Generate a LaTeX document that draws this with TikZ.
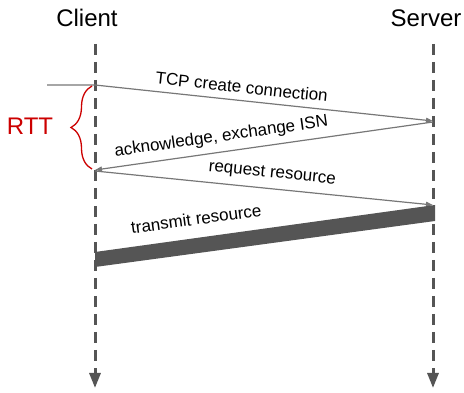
\documentclass[tikz,border=0pt]{standalone}
\usepackage{fontspec}
\setmainfont{Liberation Sans}
\usetikzlibrary{arrows.meta,calc,decorations.pathreplacing}
\definecolor{linegray}{HTML}{555555}
\definecolor{msggray}{HTML}{777777}
\definecolor{rttred}{HTML}{CC0000}

\begin{document}
\begin{tikzpicture}[x=1pt,y=-1pt,
  title node/.style={font=\fontsize{24}{28}\selectfont,anchor=base,inner sep=0pt},
  life line/.style={draw=linegray,line width=3pt,dash pattern=on 11pt off 7pt,
    -{Triangle[width=11pt,length=15pt]}},
  msg line/.style={draw=msggray,line width=1.2pt,-{Triangle[width=5pt,length=7pt]}},
  msg label/.style={font=\fontsize{17}{20}\selectfont,sloped,inner sep=0pt},
  bar/.style={fill=linegray}]

  \useasboundingbox (0,0) rectangle (464,393);

  % lifelines
  \node[title node] (client) at (87,27) {Client};
  \node[title node] (server) at (426,27) {Server};
  \coordinate (c top) at (95,44);
  \coordinate (c bot) at (95,388);
  \coordinate (s top) at (433,44);
  \coordinate (s bot) at (433,388);
  \draw[life line] (c top) -- (c bot);
  \draw[life line] (s top) -- (s bot);

  % message points
  \coordinate (start) at (47,85);
  \coordinate (c1) at (95,85);
  \coordinate (s1) at (433,121);
  \coordinate (s2) at (433,122);
  \coordinate (c2) at (95,170);
  \coordinate (c3) at (95,171);
  \coordinate (s3) at (433,205);
  \coordinate (c4) at (95,259.5);
  \coordinate (s4) at (433,213);

  \draw[msg line] (start) -- (c1) -- node[msg label,pos=0.43,above=7pt] {TCP create connection} (s1);
  \draw[msg line] (s2) -- node[msg label,pos=0.62,above=6.5pt] {acknowledge, exchange ISN} (c2);
  \draw[msg line] (c3) -- node[msg label,pos=0.52,above=7pt] {request resource} (s3);

  \fill[bar] ($(c4)+(0,-7.5)$) -- ($(s4)+(2,-8)$) -- ($(s4)+(2,8)$) -- ($(c4)+(0,7.5)$) -- cycle;
  \path (c4) -- node[msg label,pos=0.31,above=20pt] {transmit resource} (s4);

  % round trip time
  \node[text=rttred,font=\fontsize{24}{28}\selectfont,inner sep=0pt] (rtt) at (30,126) {RTT};
  \coordinate (rtt bot) at (92,169);
  \coordinate (rtt top) at (92,86);
  \draw[rttred,line width=1.3pt,decorate,decoration={brace,amplitude=21pt}] (rtt bot) -- (rtt top);
\end{tikzpicture}
\end{document}
